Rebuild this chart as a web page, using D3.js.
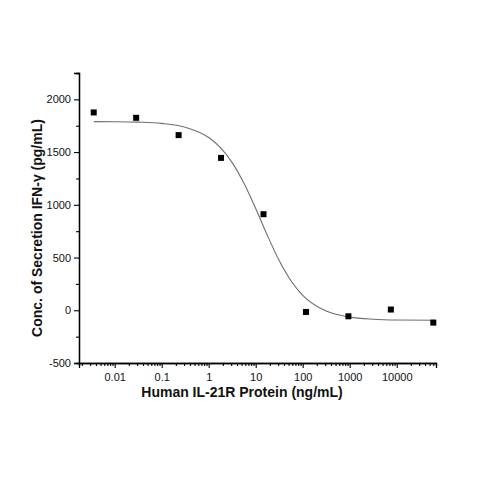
<!DOCTYPE html>
<html>
<head>
<meta charset="utf-8">
<script src="https://cdn.jsdelivr.net/npm/d3@7"></script>
<style>
  body { margin: 0; background: #fff; }
  text { font-family: "Liberation Sans", Arial, sans-serif; }
</style>
</head>
<body>
<div id="chart"></div>
<script>
// measured points (ng/mL vs pg/mL)
var conc = [0.00358, 0.0286, 0.229, 1.83, 14.65, 117.2, 937.5, 7500, 60000];
var ifng = [1876, 1825, 1661, 1445, 911, -16, -57, 7, -117];

// fitted curve
var fitX = [0.0036, 0.01, 0.0316, 0.1, 0.316, 1, 1.78, 3.16, 5.62, 10, 17.8, 31.6, 56.2, 100, 316, 1000, 3162, 10000, 65300];
var fitY = [1789, 1788, 1784, 1772, 1736, 1638, 1543, 1400, 1204, 965, 708, 471, 280, 142, -8, -65, -85, -92, -94];

// tick labels
var xTicks = [0.01, 0.1, 1, 10, 100, 1000, 10000];
var xTickLabels = ["0.01", "0.1", "1", "10", "100", "1000", "10000"];
var yTicks = [-500, 0, 500, 1000, 1500, 2000];
var yTickLabels = ["-500", "0", "500", "1000", "1500", "2000"];

var W = 479, H = 479;
var margin = {top: 73, right: 43, bottom: 116, left: 79},
    width = W - margin.left - margin.right,
    height = H - margin.top - margin.bottom;

var svg = d3.select("#chart")
  .append("svg")
    .attr("width", W)
    .attr("height", H)
  .append("g")
    .attr("transform", "translate(" + margin.left + "," + margin.top + ")");

var x = d3.scaleLog()
  .domain([0.00174, 68500])
  .range([0, width]);

var y = d3.scaleLinear()
  .domain([-500, 2250])
  .range([height, 0]);

// minor ticks for log axis: 2..9 of each decade
var xMinor = [];
for (var e = -3; e <= 4; e++) {
  for (var m = 2; m <= 9; m++) {
    var v = m * Math.pow(10, e);
    if (v > x.domain()[0] && v < x.domain()[1]) xMinor.push(v);
  }
}
var yMinor = [-250, 250, 750, 1250, 1750, 2250];

// x axis
var gx = svg.append("g")
  .attr("transform", "translate(0," + height + ")");
gx.call(d3.axisBottom(x).tickValues(xMinor).tickSize(3).tickFormat(""));
gx.append("g").call(d3.axisBottom(x).tickValues(xTicks).tickSize(5)
  .tickFormat(function(d, i) { return xTickLabels[i]; }));

// y axis
var gy = svg.append("g");
gy.call(d3.axisLeft(y).tickValues(yMinor).tickSize(3).tickFormat(""));
gy.append("g").call(d3.axisLeft(y).tickValues(yTicks).tickSize(5)
  .tickFormat(function(d, i) { return yTickLabels[i]; }));

svg.selectAll(".domain").attr("stroke", "#000").attr("stroke-width", 1.3);
svg.selectAll(".tick line").attr("stroke", "#000").attr("stroke-width", 1.1);
svg.selectAll(".tick text")
  .attr("fill", "#111")
  .style("font-size", "11px")
  .style("font-family", "'Liberation Sans', Arial, sans-serif");
gx.selectAll(".tick text").attr("dy", "0.9em");

// fitted curve
var line = d3.line()
  .x(function(d) { return x(d[0]); })
  .y(function(d) { return y(d[1]); })
  .curve(d3.curveMonotoneX);

svg.append("path")
  .datum(fitX.map(function(d, i) { return [d, fitY[i]]; }))
  .attr("fill", "none")
  .attr("stroke", "#6e6e6e")
  .attr("stroke-width", 1.1)
  .attr("d", line);

// points
var s = 6;
svg.selectAll("rect.pt")
  .data(conc.map(function(d, i) { return [d, ifng[i]]; }))
  .enter().append("rect")
    .attr("class", "pt")
    .attr("x", function(d) { return x(d[0]) - s / 2; })
    .attr("y", function(d) { return y(d[1]) - s / 2; })
    .attr("width", s)
    .attr("height", s)
    .attr("fill", "#000");

// axis titles
svg.append("text")
  .attr("x", 163)
  .attr("y", height + 34)
  .attr("text-anchor", "middle")
  .style("font-size", "14px")
  .style("font-weight", "bold")
  .attr("fill", "#111")
  .text("Human IL-21R Protein (ng/mL)");

svg.append("text")
  .attr("transform", "translate(" + (-42) + "," + (155) + ") rotate(-90)")
  .attr("text-anchor", "middle")
  .attr("dy", "0.35em")
  .style("font-size", "14px")
  .style("font-weight", "bold")
  .attr("fill", "#111")
  .text("Conc. of Secretion IFN-γ (pg/mL)");
</script>
</body>
</html>
